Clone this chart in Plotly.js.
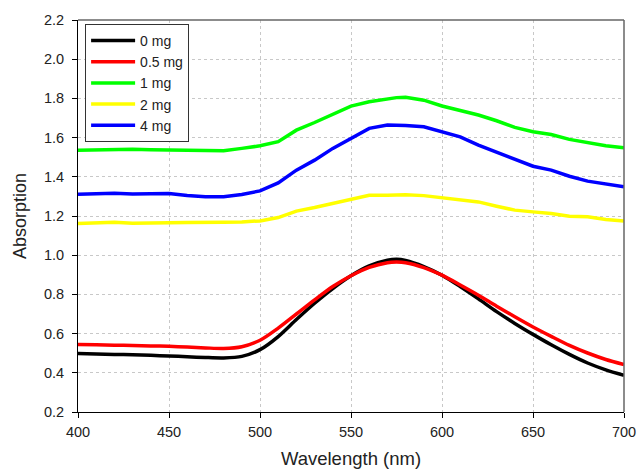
<!DOCTYPE html>
<html>
<head>
<meta charset="utf-8">
<script src="https://cdn.plot.ly/plotly-3.0.1.min.js"></script>
<style>html,body{margin:0;padding:0;background:#fff;}#chart{width:639px;height:475px;}</style>
</head>
<body>
<div id="chart"></div>
<script>
const wavelength = [400,410,420,430,440,450,460,470,480,490,500,510,520,530,540,550,560,570,575,580,590,600,610,620,630,640,650,660,670,680,690,700];
const mg0   = [0.498,0.496,0.494,0.492,0.489,0.486,0.482,0.478,0.476,0.484,0.518,0.585,0.672,0.755,0.830,0.895,0.945,0.974,0.979,0.973,0.942,0.898,0.840,0.777,0.712,0.652,0.596,0.543,0.494,0.450,0.415,0.387];
const mg05  = [0.545,0.543,0.541,0.539,0.537,0.535,0.531,0.527,0.524,0.533,0.566,0.628,0.700,0.772,0.840,0.895,0.938,0.962,0.965,0.962,0.937,0.898,0.848,0.796,0.740,0.686,0.634,0.586,0.540,0.501,0.468,0.442];
const mg1   = [1.536,1.538,1.536,1.541,1.538,1.537,1.539,1.535,1.533,1.545,1.558,1.579,1.638,1.677,1.718,1.761,1.783,1.800,1.804,1.806,1.791,1.761,1.740,1.715,1.686,1.652,1.630,1.616,1.591,1.573,1.558,1.548];
const mg2   = [1.162,1.165,1.168,1.163,1.166,1.165,1.167,1.166,1.168,1.170,1.175,1.192,1.225,1.243,1.264,1.289,1.306,1.306,1.307,1.309,1.304,1.294,1.281,1.272,1.250,1.230,1.221,1.213,1.199,1.196,1.182,1.175];
const mg4   = [1.311,1.312,1.316,1.312,1.313,1.315,1.305,1.298,1.298,1.310,1.328,1.369,1.434,1.485,1.545,1.596,1.647,1.664,1.665,1.662,1.655,1.630,1.604,1.562,1.527,1.489,1.454,1.434,1.403,1.378,1.362,1.349];
const seriesNames = ["0 mg","0.5 mg","1 mg","2 mg","4 mg"];
const seriesColors = ["#000000","#ff0000","#00ff00","#ffff00","#0000ff"];
const seriesData = [mg0, mg05, mg1, mg2, mg4];

const traces = seriesData.map((ys, i) => ({
  x: wavelength, y: ys, type: "scatter", mode: "lines", name: seriesNames[i],
  line: {color: seriesColors[i], width: 3.5, shape: i < 2 ? "spline" : "linear", smoothing: 0.8}
}));

const layout = {
  width: 639, height: 475,
  margin: {l: 78, r: 15, t: 20, b: 63},
  paper_bgcolor: "#fff", plot_bgcolor: "#fff",
  font: {family: "Arial, 'Liberation Sans', sans-serif", size: 14.5, color: "#222"},
  showlegend: true,
  legend: {x: 0.013, y: 0.99, xanchor: "left", yanchor: "top", bgcolor: "#fff",
    bordercolor: "#333", borderwidth: 1, font: {size: 14}, tracegroupgap: 0, itemwidth: 44},
  xaxis: {range: [400, 700], tickvals: [400,450,500,550,600,650,700], ticks: "outside", ticklen: 5,
    tickcolor: "#000", showline: true, linecolor: "#000", linewidth: 1, ticklabelstandoff: 2,
    showgrid: true, gridcolor: "#c8c8c8", griddash: "dot", gridwidth: 1, zeroline: false,
    title: {text: "Wavelength (nm)", font: {size: 18.5}, standoff: 12}},
  yaxis: {range: [0.2, 2.2], tickvals: [0.2,0.4,0.6,0.8,1.0,1.2,1.4,1.6,1.8,2.0,2.2],
    ticktext: ["0.2","0.4","0.6","0.8","1.0","1.2","1.4","1.6","1.8","2.0","2.2"],
    ticks: "outside", ticklen: 5, tickcolor: "#000", showline: true, linecolor: "#000", linewidth: 1,
    ticklabelstandoff: 5,
    showgrid: true, gridcolor: "#c8c8c8", griddash: "dot", gridwidth: 1, zeroline: false,
    title: {text: "Absorption", font: {size: 18}, standoff: 12}},
  shapes: [
    {type: "line", xref: "paper", yref: "paper", x0: 0, x1: 1, y0: 1, y1: 1, line: {color: "#666", width: 1.5}},
    {type: "line", xref: "paper", yref: "paper", x0: 1, x1: 1, y0: 0, y1: 1, line: {color: "#666", width: 1.5}}
  ]
};
Plotly.newPlot("chart", traces, layout, {displayModeBar: false, staticPlot: true});
</script>
</body>
</html>
